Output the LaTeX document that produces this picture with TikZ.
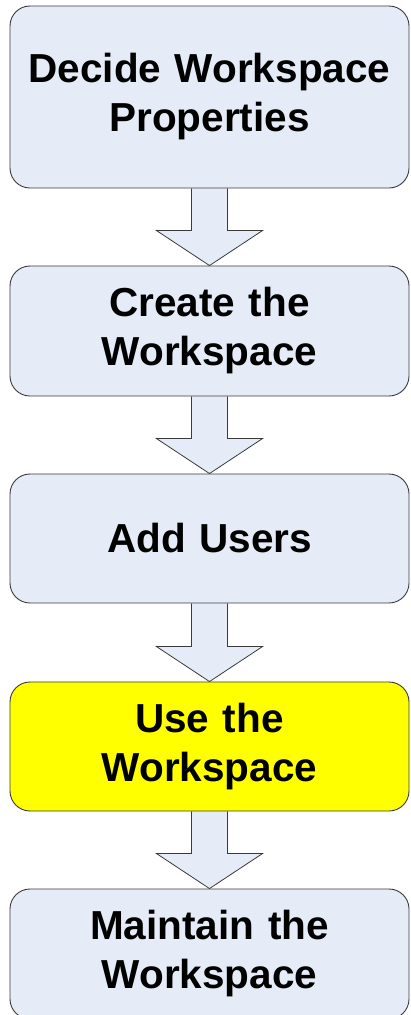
\documentclass[tikz,border=0pt]{standalone}
\usepackage{fontspec}
\setmainfont{Liberation Sans}
\usetikzlibrary{calc,backgrounds}
\definecolor{stepfill}{HTML}{E6ECF7}
\definecolor{stepline}{HTML}{3A3A3A}
\definecolor{hilite}{HTML}{FFFF00}
\tikzset{
  stepbox/.style={draw=stepline, line width=0.9pt, fill=stepfill,
    rounded corners=20pt, minimum width=399pt, inner sep=0pt,
    text width=390pt, align=center,
    font=\fontsize{40.5}{49}\selectfont\bfseries},
  blockarrow/.style={draw=stepline, line width=0.8pt, fill=stepfill, line join=miter}
}
% block arrow from the bottom of one step to the top of the next
\newcommand\flowarrow[2]{%
  \fill[stepfill] ($(#1.south)+(-18,0)$) -- ($(#2.north)+(-18,-35)$)
    -- ($(#2.north)+(-53,-35)$) -- (#2.north) -- ($(#2.north)+(53,-35)$)
    -- ($(#2.north)+(18,-35)$) -- ($(#1.south)+(18,0)$) -- cycle;
  \draw[blockarrow, fill=none] ($(#1.south)+(-18,0)$) -- ($(#2.north)+(-18,-35)$)
    -- ($(#2.north)+(-53,-35)$) -- (#2.north) -- ($(#2.north)+(53,-35)$)
    -- ($(#2.north)+(18,-35)$) -- ($(#1.south)+(18,0)$);
}
\begin{document}
\begin{tikzpicture}[x=1pt, y=-1pt]
\useasboundingbox (0,0) rectangle (410,1015);
\clip (0,0) rectangle (410,1015);
\node[stepbox, minimum height=182pt] (decide)   at (209.5,97)    {Decide Workspace\\Properties};
\node[stepbox, minimum height=130pt] (create)   at (209.5,331)   {Create the\\Workspace};
\node[stepbox, minimum height=129pt] (users)    at (209.5,538.5) {Add Users};
\node[stepbox, minimum height=129pt, fill=hilite] (use) at (209.5,746.5) {Use the\\Workspace};
\node[stepbox, minimum height=130pt] (maintain) at (209.5,954)   {Maintain the\\Workspace};
\begin{scope}[on background layer]
  \flowarrow{decide}{create}
  \flowarrow{create}{users}
  \flowarrow{users}{use}
  \flowarrow{use}{maintain}
\end{scope}
\end{tikzpicture}
\end{document}
